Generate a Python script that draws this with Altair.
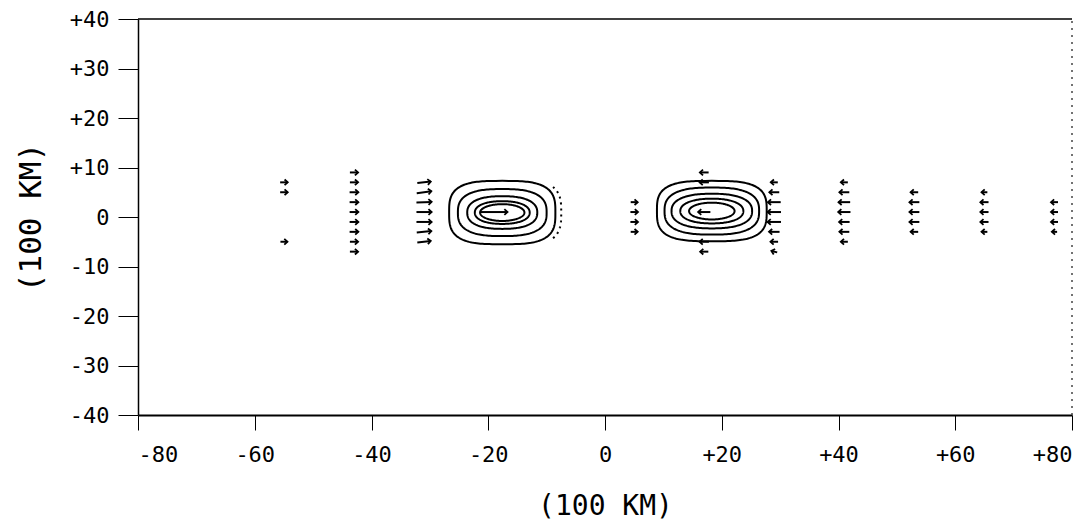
import altair as alt
import pandas as pd
import numpy as np

# ---------------- data ----------------
# vector field: columns of arrows (x position), their rows (y), eastward length u, northward v
col_x = [-55, -43, -31, -19, 5, 17, 29, 41, 53, 65, 77]
col_rows = [
    [7, 5, -5],
    [9, 7, 5, 3, 1, -1, -3, -5, -7],
    [7, 5, 3, 1, -1, -3, -5],
    [1],
    [3, 1, -1, -3],
    [9, 7, 1, -5, -7],
    [7, 5, 3, 1, -1, -3, -5, -7],
    [7, 5, 3, 1, -1, -3, -5],
    [5, 3, 1, -1, -3],
    [5, 3, 1, -1, -3],
    [3, 1, -1, -3],
]
col_u = [
    [1.3, 1.3, 1.2],
    [1.4, 1.4, 1.5, 1.5, 1.5, 1.5, 1.5, 1.4, 1.4],
    [2.3, 2.5, 2.6, 2.6, 2.6, 2.5, 2.3],
    [4.6],
    [1.2, 1.3, 1.3, 1.2],
    [-1.5, -1.6, -2.1, -1.6, -1.4],
    [-1.2, -1.7, -2.2, -2.3, -2.3, -1.8, -1.3, -1.0],
    [-1.2, -1.7, -2.0, -2.1, -1.8, -1.7, -1.2],
    [-1.3, -1.7, -1.7, -1.7, -1.3],
    [-1.0, -1.4, -1.4, -1.4, -1.0],
    [-1.2, -1.2, -1.2, -0.9],
]
col_v = [
    [0.0, 0.0, 0.0],
    [0.0, 0.0, 0.0, 0.0, 0.0, 0.0, 0.0, 0.0, 0.0],
    [0.3, 0.4, 0.1, 0.0, 0.0, 0.3, 0.3],
    [0.0],
    [0.0, 0.0, 0.0, 0.0],
    [0.0, 0.0, 0.0, 0.0, 0.0],
    [0.0, 0.0, 0.0, 0.0, 0.0, 0.0, 0.0, 0.3],
    [0.0, 0.0, 0.0, 0.0, 0.0, 0.0, 0.0],
    [0.0, 0.0, 0.0, 0.0, 0.0],
    [0.0, 0.0, 0.0, 0.0, 0.0],
    [0.0, 0.0, 0.0, 0.0],
]

# closed contour rings of the two vortices: centre, semi-axes, squareness exponent
vortex_x = [-17.6, 18.3]
vortex_y = [0.9, 1.2]
ring_a = [[9.1, 7.6, 6.0, 4.7, 3.8], [9.4, 8.1, 6.9, 5.4, 3.9]]
ring_b = [[6.4, 4.75, 3.3, 2.3, 1.7], [6.1, 4.75, 3.5, 2.5, 1.7]]
ring_n = [3.2, 2.7, 2.4, 2.2, 2.0]
# broken (dotted) partial ring on the east side of the western vortex
partial_a = 10.1
partial_b = 7.0
partial_t = [-38, 38]

x_ticks = [-80, -60, -40, -20, 0, 20, 40, 60, 80]
y_ticks = [-40, -30, -20, -10, 0, 10, 20, 30, 40]
axis_title = "(100 KM)"

# ---------------- tables ----------------
PX_X = 934 / 160.0
PX_Y = 396 / 80.0
arows = []
for cx, rows, us, vs in zip(col_x, col_rows, col_u, col_v):
    for yy, u, v in zip(rows, us, vs):
        ang = (np.degrees(np.arctan2(-v * PX_Y, u * PX_X)) + 360) % 360
        arows.append(dict(x1=cx - u / 2, x2=cx + u / 2, y1=yy - v / 2, y2=yy + v / 2, ang=float(ang)))
arrows = pd.DataFrame(arows)


def superellipse(cx, cy, a, b, n, t):
    c, s = np.cos(t), np.sin(t)
    return (cx + a * np.sign(c) * np.abs(c) ** (2 / n),
            cy + b * np.sign(s) * np.abs(s) ** (2 / n))


rrows = []
t = np.linspace(0, 2 * np.pi, 181)
for k in range(2):
    for j in range(len(ring_n)):
        xs, ys = superellipse(vortex_x[k], vortex_y[k], ring_a[k][j], ring_b[k][j], ring_n[j], t)
        for i, (xx, yy) in enumerate(zip(xs, ys)):
            rrows.append(dict(x=xx, y=yy, ring=f"{k}-{j}", i=i))
rings = pd.DataFrame(rrows)

tp = np.radians(np.linspace(partial_t[0], partial_t[1], 40))
pxs, pys = superellipse(vortex_x[0], vortex_y[0], partial_a, partial_b, ring_n[0], tp)
partial = pd.DataFrame(dict(x=pxs, y=pys, i=np.arange(len(pxs))))

frame_top = pd.DataFrame(dict(x=[-80], x2=[80], y=[40]))
frame_right = pd.DataFrame(dict(x=[80], y=[-40], y2=[40]))

# ---------------- chart ----------------
FONT = "DejaVu Sans Mono"
xs_ = alt.Scale(domain=[-80, 80], nice=False, zero=False)
ys_ = alt.Scale(domain=[-40, 40], nice=False, zero=False)
lab = "datum.value > 0 ? '+' + datum.value : '' + datum.value"

xaxis = alt.Axis(values=x_ticks, labelExpr=lab, title=axis_title, grid=False,
                 tickSize=15, labelPadding=14, titlePadding=27,
                 domainWidth=2, domainColor="black", tickColor="black",
                 labelFont=FONT, labelFontSize=22, labelColor="black",
                 titleFont=FONT, titleFontSize=28, titleFontWeight="normal", titleColor="black")
yaxis = alt.Axis(values=y_ticks, labelExpr=lab, title=axis_title, grid=False,
                 tickSize=20, labelPadding=9, titlePadding=22,
                 domainWidth=1.5, domainColor="black", tickColor="black",
                 labelFont=FONT, labelFontSize=22, labelColor="black",
                 titleFont=FONT, titleFontSize=31, titleFontWeight="normal", titleColor="black")

ring_layer = alt.Chart(rings).mark_line(color="black", strokeWidth=2).encode(
    x=alt.X("x:Q", scale=xs_, axis=xaxis),
    y=alt.Y("y:Q", scale=ys_, axis=yaxis),
    detail="ring:N",
    order="i:Q",
)
partial_layer = alt.Chart(partial).mark_line(color="black", strokeWidth=2, strokeDash=[2, 4]).encode(
    x=alt.X("x:Q", scale=xs_), y=alt.Y("y:Q", scale=ys_), order="i:Q")

shaft = alt.Chart(arrows).mark_rule(color="black", strokeWidth=2).encode(
    x=alt.X("x1:Q", scale=xs_), x2="x2:Q",
    y=alt.Y("y1:Q", scale=ys_), y2="y2:Q")
head = alt.Chart(arrows).mark_point(
    shape="M-1,-0.9L0,0L-1,0.9", filled=False, color="black", strokeWidth=1.8, size=40, opacity=1
).encode(
    x=alt.X("x2:Q", scale=xs_), y=alt.Y("y2:Q", scale=ys_),
    angle=alt.Angle("ang:Q", scale=None))

top_rule = alt.Chart(frame_top).mark_rule(color="black", strokeWidth=1.5).encode(
    x=alt.X("x:Q", scale=xs_), x2="x2:Q", y=alt.Y("y:Q", scale=ys_))
right_rule = alt.Chart(frame_right).mark_rule(color="#444", strokeWidth=1.5, strokeDash=[2, 5]).encode(
    x=alt.X("x:Q", scale=xs_), y=alt.Y("y:Q", scale=ys_), y2="y2:Q")

chart = alt.layer(ring_layer, partial_layer, shaft, head, top_rule, right_rule).properties(
    width=934, height=396,
    autosize=alt.AutoSizeParams(type="none"),
    padding={"left": 130, "top": 11, "right": 11, "bottom": 108},
    background="white",
).configure_view(stroke=None)

chart.save("out.html", embed_options={"renderer": "svg", "actions": False})
